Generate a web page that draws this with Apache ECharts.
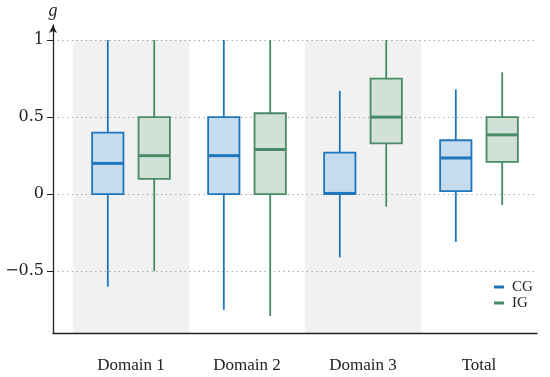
<!DOCTYPE html>
<html>
<head>
<meta charset="utf-8">
<script src="https://cdn.jsdelivr.net/npm/echarts@6/dist/echarts.min.js"></script>
<style>
html,body{margin:0;padding:0;background:#fff;}
#chart{width:550px;height:377px;}
</style>
</head>
<body>
<div id="chart"></div>
<script>
// Categories
const categories = ['Domain 1', 'Domain 2', 'Domain 3', 'Total'];
// Box statistics per category: [min, Q1, median, Q3, max]
const cgStats = [
  [-0.60, 0.00, 0.20, 0.40, 1.00],
  [-0.75, 0.00, 0.25, 0.50, 1.00],
  [-0.41, 0.00, 0.005, 0.27, 0.67],
  [-0.31, 0.02, 0.235, 0.35, 0.68]
];
const igStats = [
  [-0.50, 0.10, 0.25, 0.50, 1.00],
  [-0.79, 0.00, 0.29, 0.525, 1.00],
  [-0.08, 0.33, 0.50, 0.75, 1.00],
  [-0.07, 0.21, 0.385, 0.50, 0.79]
];
const yTicks = [-0.5, 0, 0.5, 1];
const seriesNames = ['CG', 'IG'];

const FONT = '"Liberation Serif", "DejaVu Serif", serif';
const YFONT = '"DejaVu Serif", serif';
const CG_STROKE = '#1f76bd', CG_FILL = '#c5dcef';
const IG_STROKE = '#4a8b67', IG_FILL = '#d1e1d7';

function buildData(stats) {
  return stats.map((s, i) => [i].concat(s));
}

function makeRender(offsetFrac, stroke, fill) {
  return function (params, api) {
    const cat = api.value(0);
    const band = api.size([1, 0])[0];
    const cx = api.coord([cat, 0])[0] + offsetFrac * band;
    const w = band * 0.27;
    const yMin = api.coord([cat, api.value(1)])[1];
    const yQ1 = api.coord([cat, api.value(2)])[1];
    const yMed = api.coord([cat, api.value(3)])[1];
    const yQ3 = api.coord([cat, api.value(4)])[1];
    const yMax = api.coord([cat, api.value(5)])[1];
    const lw = 1.8;
    return {
      type: 'group',
      children: [
        { type: 'line', shape: { x1: cx, y1: yMin, x2: cx, y2: yQ1 }, style: { stroke: stroke, lineWidth: lw } },
        { type: 'line', shape: { x1: cx, y1: yQ3, x2: cx, y2: yMax }, style: { stroke: stroke, lineWidth: lw } },
        { type: 'rect', shape: { x: cx - w / 2, y: yQ3, width: w, height: yQ1 - yQ3 }, style: { fill: fill, stroke: stroke, lineWidth: lw } },
        { type: 'line', shape: { x1: cx - w / 2, y1: yMed, x2: cx + w / 2, y2: yMed }, style: { stroke: stroke, lineWidth: 3 } }
      ]
    };
  };
}

const chart = echarts.init(document.getElementById('chart'), null, { renderer: 'canvas' });
const yMin = -0.9;
const yTop = 1.097;
const option = {
  animation: false,
  backgroundColor: '#fff',
  textStyle: { fontFamily: FONT },
  grid: [
    { left: 53, right: 13, top: 25, bottom: 44, containLabel: false },
    { left: 73, right: 13, top: 40, bottom: 44, containLabel: false }
  ],
  legend: {
    orient: 'vertical',
    left: 494,
    top: 279,
    icon: 'rect',
    itemWidth: 10,
    itemHeight: 3,
    itemGap: 0,
    padding: 0,
    textStyle: { fontFamily: FONT, fontSize: 15, color: '#222', lineHeight: 16, padding: [0, 0, 0, 3] },
    data: [
      { name: seriesNames[0], itemStyle: { color: CG_STROKE } },
      { name: seriesNames[1], itemStyle: { color: IG_STROKE } }
    ]
  },
  xAxis: [
    {
      gridIndex: 0, type: 'value', min: 0, max: 1,
      axisLine: { show: true, onZero: false, lineStyle: { color: '#222', width: 1.3 } },
      axisTick: { show: false }, axisLabel: { show: false }, splitLine: { show: false }
    },
    {
      gridIndex: 1, type: 'category', data: categories, z: -1,
      axisLine: { show: false }, axisTick: { show: false },
      axisLabel: { fontFamily: FONT, fontSize: 17, color: '#222', margin: 24 },
      splitLine: { show: false },
      splitArea: { show: true, areaStyle: { color: ['#f1f1f1', 'rgba(255,255,255,0)'] } }
    }
  ],
  yAxis: [
    {
      gridIndex: 0, type: 'value', min: yMin, max: yTop, splitNumber: 4, z: 1,
      name: 'g', nameLocation: 'end', nameGap: 5,
      nameTextStyle: { fontFamily: FONT, fontStyle: 'italic', fontSize: 18, color: '#222', align: 'center' },
      axisLine: { show: true, onZero: false, symbol: ['none', 'arrow'], symbolSize: [6, 8], lineStyle: { color: '#222', width: 1.3 } },
      axisTick: { show: true, length: 6, customValues: yTicks, lineStyle: { color: '#222', width: 1 } },
      axisLabel: {
        fontFamily: YFONT, fontSize: 16, color: '#222', margin: 9, customValues: yTicks,
        formatter: v => String(v).replace('-', '\u2212')
      },
      splitLine: { show: true, lineStyle: { color: '#999', type: [1.2, 3.5], width: 1.2 } }
    },
    {
      gridIndex: 1, type: 'value', min: yMin, max: 1,
      axisLine: { show: false }, axisTick: { show: false }, axisLabel: { show: false }, splitLine: { show: false }
    }
  ],
  series: [
    {
      name: seriesNames[0], type: 'custom', xAxisIndex: 1, yAxisIndex: 1,
      itemStyle: { color: CG_STROKE },
      encode: { x: 0, y: [1, 2, 3, 4, 5] },
      renderItem: makeRender(-0.2, CG_STROKE, CG_FILL),
      data: buildData(cgStats)
    },
    {
      name: seriesNames[1], type: 'custom', xAxisIndex: 1, yAxisIndex: 1,
      itemStyle: { color: IG_STROKE },
      encode: { x: 0, y: [1, 2, 3, 4, 5] },
      renderItem: makeRender(0.2, IG_STROKE, IG_FILL),
      data: buildData(igStats)
    }
  ]
};
chart.setOption(option);
</script>
</body>
</html>
